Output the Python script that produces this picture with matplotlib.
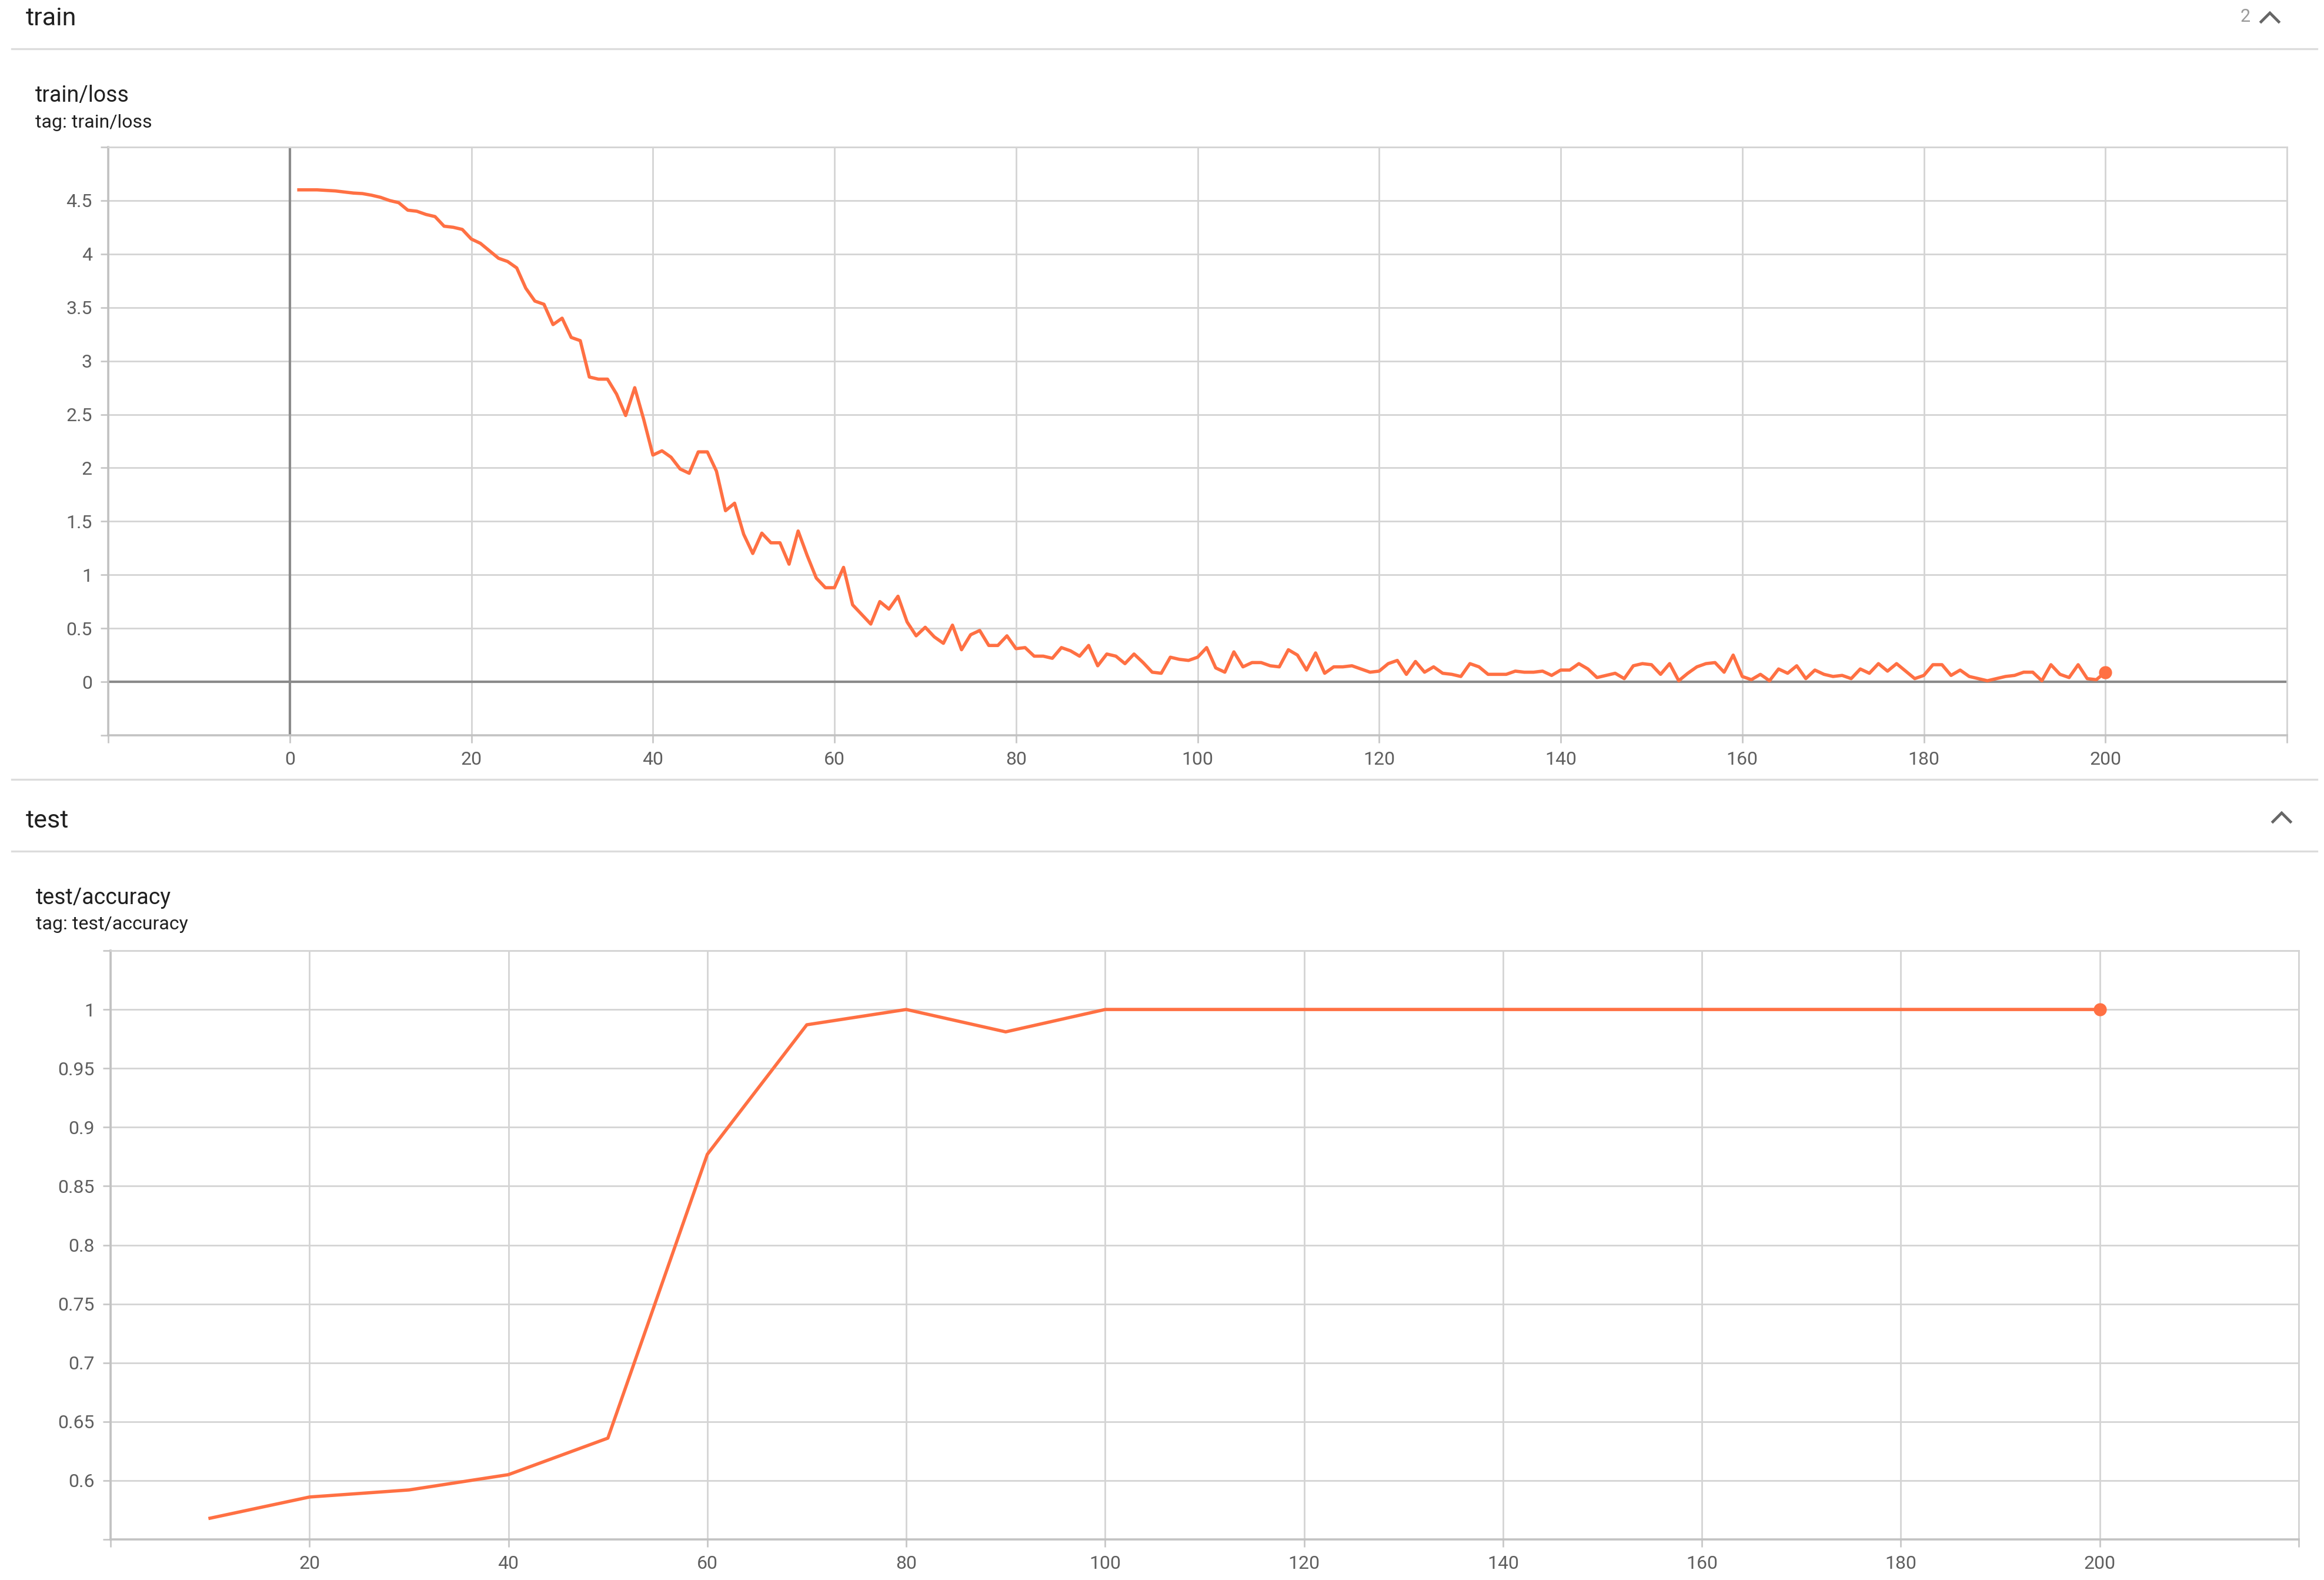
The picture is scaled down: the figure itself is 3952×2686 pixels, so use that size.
import numpy as np
import matplotlib
matplotlib.use("Agg")
import matplotlib.pyplot as plt
from matplotlib.lines import Line2D

#_____________________________________________________________________________
# data

loss_steps = list(range(1, 201))
loss_values = [
    4.60, 4.60, 4.60, 4.595, 4.59, 4.58, 4.57, 4.565, 4.55, 4.53,
    4.50, 4.48, 4.41, 4.40, 4.37, 4.35, 4.26, 4.25, 4.23, 4.14,
    4.10, 4.03, 3.96, 3.93, 3.87, 3.68, 3.56, 3.53, 3.34, 3.40,
    3.22, 3.19, 2.85, 2.83, 2.83, 2.69, 2.49, 2.75, 2.45, 2.12,
    2.16, 2.10, 1.99, 1.95, 2.15, 2.15, 1.97, 1.60, 1.67, 1.38,
    1.20, 1.39, 1.30, 1.30, 1.10, 1.41, 1.18, 0.97, 0.88, 0.88,
    1.07, 0.72, 0.63, 0.54, 0.75, 0.68, 0.80, 0.56, 0.43, 0.51,
    0.42, 0.36, 0.53, 0.30, 0.44, 0.48, 0.34, 0.34, 0.43, 0.31,
    0.32, 0.24, 0.24, 0.22, 0.32, 0.29, 0.24, 0.34, 0.15, 0.26,
    0.24, 0.17, 0.26, 0.18, 0.09, 0.08, 0.23, 0.21, 0.20, 0.23,
    0.32, 0.13, 0.09, 0.28, 0.14, 0.18, 0.18, 0.15, 0.14, 0.30,
    0.25, 0.11, 0.27, 0.08, 0.14, 0.14, 0.15, 0.12, 0.09, 0.10,
    0.17, 0.20, 0.07, 0.19, 0.09, 0.14, 0.08, 0.07, 0.05, 0.17,
    0.14, 0.07, 0.07, 0.07, 0.10, 0.09, 0.09, 0.10, 0.06, 0.11,
    0.11, 0.17, 0.12, 0.04, 0.06, 0.08, 0.03, 0.15, 0.17, 0.16,
    0.07, 0.17, 0.01, 0.08, 0.14, 0.17, 0.18, 0.09, 0.25, 0.05,
    0.02, 0.07, 0.01, 0.12, 0.08, 0.15, 0.03, 0.11, 0.07, 0.05,
    0.06, 0.03, 0.12, 0.08, 0.17, 0.10, 0.17, 0.10, 0.03, 0.06,
    0.16, 0.16, 0.06, 0.11, 0.05, 0.03, 0.01, 0.03, 0.05, 0.06,
    0.09, 0.09, 0.01, 0.16, 0.07, 0.04, 0.16, 0.03, 0.02, 0.09,
]

acc_steps = [10, 20, 30, 40, 50, 60, 70, 80, 90, 100,
             110, 120, 130, 140, 150, 160, 170, 180, 190, 200]
acc_values = [0.568, 0.586, 0.592, 0.605, 0.636, 0.877, 0.987, 1.0, 0.981, 1.0,
              1.0, 1.0, 1.0, 1.0, 1.0, 1.0, 1.0, 1.0, 1.0, 1.0]

loss_xticks = list(range(-20, 221, 20))
loss_yticks = [-0.5, 0, 0.5, 1, 1.5, 2, 2.5, 3, 3.5, 4, 4.5, 5]
acc_xticks = list(range(0, 221, 20))
acc_yticks = [0.55, 0.6, 0.65, 0.7, 0.75, 0.8, 0.85, 0.9, 0.95, 1.0, 1.05]

#_____________________________________________________________________________
W, H = 3952., 2686.
orange = "#ff7043"
grid_col = "#d4d4d4"
zero_col = "#8a8a8a"
tick_col = "#5f5f5f"
text_col = "#202020"

plt.rcParams["font.family"] = ["Roboto", "DejaVu Sans"]

#_____________________________________________________________________________
def main():

    fig = plt.figure(figsize=(W/100, H/100), dpi=100)
    fig.patch.set_facecolor("white")

    #section headers
    header(fig, "train", 43, 83)
    fig.text(fx(3810), fy(37), "2", fontsize=22, color="#9a9a9a", va="baseline")
    chevron(fig, 3860, 28)
    header(fig, "test", 1407, 1447, top_line=1325)
    chevron(fig, 3880, 1388)

    #card titles
    fig.text(fx(60), fy(173), "train/loss", fontsize=27, color=text_col, va="baseline")
    fig.text(fx(60), fy(217), "tag: train/loss", fontsize=23, color=text_col, va="baseline")
    fig.text(fx(61), fy(1537), "test/accuracy", fontsize=27, color=text_col, va="baseline")
    fig.text(fx(61), fy(1580), "tag: test/accuracy", fontsize=23, color=text_col, va="baseline")

    #train/loss
    ax1 = fig.add_axes(box(184, 3889, 250, 1250))
    set_axes(ax1, loss_xticks, loss_yticks)
    ax1.axhline(0, color=zero_col, lw=3, zorder=2)
    ax1.axvline(0, color=zero_col, lw=3, zorder=2)
    ax1.plot(loss_steps, loss_values, color=orange, lw=4, zorder=3)
    ax1.plot(loss_steps[-1], loss_values[-1], "o", color=orange, ms=15, zorder=4)

    #test/accuracy
    ax2 = fig.add_axes(box(188, 3909, 1616, 2617))
    set_axes(ax2, acc_xticks, acc_yticks)
    ax2.plot(acc_steps, acc_values, color=orange, lw=4, zorder=3)
    ax2.plot(acc_steps[-1], acc_values[-1], "o", color=orange, ms=15, zorder=4)

    fig.savefig("out.png", dpi=100, facecolor="white")

#main

#_____________________________________________________________________________
def fx(px):
    return px/W

def fy(py):
    return 1. - py/H

def box(l, r, t, b):
    return [fx(l), fy(b), (r-l)/W, (b-t)/H]

#_____________________________________________________________________________
def header(fig, title, base, line_y, top_line=None):

    fig.text(fx(44), fy(base), title, fontsize=31, color=text_col, va="baseline")
    if top_line is not None:
        fig.add_artist(Line2D([fx(20), fx(3940)], [fy(top_line)]*2, color="#dcdcdc", lw=2.4))
    fig.add_artist(Line2D([fx(20), fx(3940)], [fy(line_y)]*2, color="#dcdcdc", lw=2.4))

#header

#_____________________________________________________________________________
def chevron(fig, xc, yc):

    fig.add_artist(Line2D([fx(xc-15), fx(xc), fx(xc+15)], [fy(yc+9), fy(yc-6), fy(yc+9)],
                          color="#666666", lw=3.4, solid_joinstyle="miter"))

#chevron

#_____________________________________________________________________________
def set_axes(ax, xt, yt):

    ax.set_xlim(xt[0], xt[-1])
    ax.set_ylim(yt[0], yt[-1])

    #TensorBoard hides the labels at the range ends
    ax.set_xticks(xt)
    ax.set_xticklabels([""] + ["{:g}".format(v) for v in xt[1:-1]] + [""])
    ax.set_yticks(yt)
    ax.set_yticklabels([""] + ["{:g}".format(v) for v in yt[1:-1]] + [""])

    ax.grid(True, color=grid_col, lw=2.0, zorder=1)
    ax.set_axisbelow(True)

    for s in ["top", "right"]:
        ax.spines[s].set_color(grid_col)
        ax.spines[s].set_linewidth(2.0)
    for s in ["left", "bottom"]:
        ax.spines[s].set_color("#c2c2c2")
        ax.spines[s].set_linewidth(2.6)

    ax.tick_params(which="both", length=9.5, width=2.0, color="#c8c8c8",
                   labelcolor=tick_col, labelsize=23, pad=10)

#set_axes

#_____________________________________________________________________________
if __name__ == "__main__":

    main()
